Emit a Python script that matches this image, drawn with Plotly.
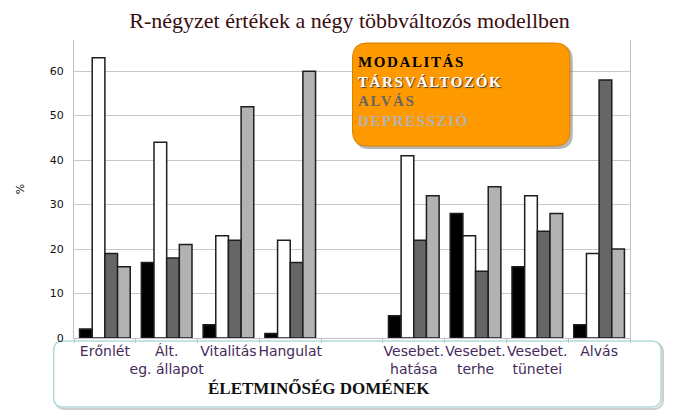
import plotly.graph_objs as go

# adatok
domenek = ["Erőnlét", "Ált.<br>eg. állapot", "Vitalitás", "Hangulat", " ",
           "Vesebet.<br>hatása", "Vesebet.<br>terhe", "Vesebet.<br>tünetei", "Alvás"]
modalitas = [2, 17, 3, 1, None, 5, 28, 16, 3]
tarsvaltozok = [63, 44, 23, 22, None, 41, 23, 32, 19]
alvas = [19, 18, 22, 17, None, 22, 15, 24, 58]
depresszio = [16, 21, 52, 60, None, 32, 34, 28, 20]

sorozatok = ["MODALITÁS", "TÁRSVÁLTOZÓK", "ALVÁS", "DEPRESSZIÓ"]
szinek = ["#000000", "#ffffff", "#666666", "#b2b2b2"]

# a bongeszo 8px-es body margoja miatt kisebb abra
OFF = 8
W, H = 691 - OFF, 416 - OFF
# rajzterulet pixelben az ablakban (a dobozokhoz)
L, R, T, B = 57, 630, 40, 338


def px_x(p):
    return (p - L) / (R - L)


def px_y(p):
    return (B - p) / (B - T)


def kerek(x0, y0, x1, y1, r):
    """lekerekitett teglalap path paper koordinatakban"""
    X0, X1, Yt, Yb = px_x(x0), px_x(x1), px_y(y0), px_y(y1)
    rx, ry = r / (R - L), r / (B - T)
    return (f"M {X0+rx},{Yt} L {X1-rx},{Yt} Q {X1},{Yt} {X1},{Yt-ry} "
            f"L {X1},{Yb+ry} Q {X1},{Yb} {X1-rx},{Yb} L {X0+rx},{Yb} "
            f"Q {X0},{Yb} {X0},{Yb+ry} L {X0},{Yt-ry} Q {X0},{Yt} {X0+rx},{Yt} Z")


fig = go.Figure()
for nev, ertek, szin in zip(sorozatok, [modalitas, tarsvaltozok, alvas, depresszio], szinek):
    fig.add_trace(go.Bar(x=domenek, y=ertek, name=nev,
                         marker=dict(color=szin, line=dict(color="#1e1e1e", width=1.5))))

shapes = [
    # also doboz arnyeka es doboz
    dict(type="path", path=kerek(38, 343, 664, 409, 10), xref="paper", yref="paper",
         line=dict(color="#cfcfcf", width=2), fillcolor="rgba(0,0,0,0)", layer="below"),
    dict(type="path", path=kerek(36, 341, 662, 407, 10), xref="paper", yref="paper",
         line=dict(color="#b5d9dc", width=1.5), fillcolor="white", layer="below"),
    # jelmagyarazat doboz arnyeka es doboz
    dict(type="path", path=kerek(346, 45, 571, 149, 15), xref="paper", yref="paper",
         line=dict(width=0), fillcolor="rgba(90,90,90,0.45)", layer="above"),
    dict(type="path", path=kerek(344, 43, 568, 146, 15), xref="paper", yref="paper",
         line=dict(color="#d98200", width=1), fillcolor="#ff9900", layer="above"),
]

# jelmagyarazat szovege egy annotacioban, soronkent szinezve
arnyek = ["none", "1px 1px 1px #3a3a3a", "none", "none"]
sorok = [f'<span style="color:{szin};text-shadow:{sh};letter-spacing:1.6px">{nev}</span>'
         for nev, szin, sh in zip(sorozatok, szinek, arnyek)]

annotations = [
    dict(text="ÉLETMINŐSÉG DOMÉNEK", x=px_x(310), y=px_y(388), xref="paper", yref="paper",
         xanchor="center", yanchor="middle", showarrow=False,
         font=dict(family="Liberation Serif", size=17, color="#111111", weight="bold")),
    dict(text="<br>".join(sorok), x=px_x(348), y=px_y(91), xref="paper", yref="paper",
         xanchor="left", yanchor="middle", align="left", showarrow=False,
         font=dict(family="Liberation Serif", size=15, color="#000000", weight="bold")),
]

fig.update_layout(
    width=W, height=H, autosize=False,
    margin=go.layout.Margin(l=L - OFF, r=691 - R, t=T - OFF, b=416 - B, pad=0),
    paper_bgcolor="white", plot_bgcolor="white",
    barmode="group", bargap=0.18, bargroupgap=0,
    showlegend=False,
    title=dict(text="R-négyzet értékek a négy többváltozós modellben", x=px_x(341), xref="paper",
               xanchor="center", y=1 - (20 - OFF) / H, yanchor="middle",
               font=dict(family="Liberation Serif", size=22, color="#3a0d0d")),
    xaxis=dict(type="category", tickson="boundaries", ticks="outside", ticklen=4,
               tickcolor="#c0c0c0", showline=True, linecolor="#c0c0c0", tickangle=0,
               tickfont=dict(family="DejaVu Sans", size=14, color="#452a5c")),
    yaxis=dict(range=[0, 67], dtick=10, showgrid=True, gridcolor="#c8c8c8",
               showline=True, mirror=True, linecolor="#c0c0c0", zeroline=False,
               ticks="", ticklabelstandoff=7,
               tickfont=dict(family="DejaVu Sans", size=11, color="#111111"),
               title=dict(text="%", standoff=22,
                          font=dict(family="DejaVu Sans", size=11, color="#111111"))),
    shapes=shapes, annotations=annotations,
)

fig.write_html("out.html")
